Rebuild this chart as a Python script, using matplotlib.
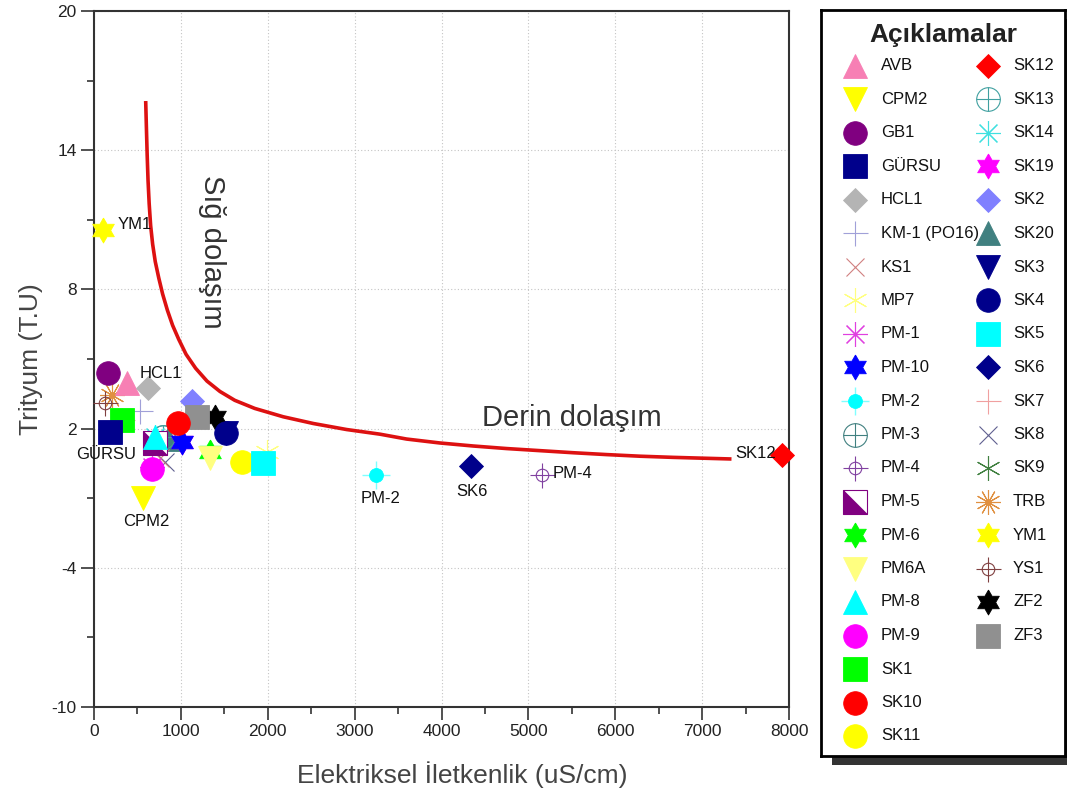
import numpy as np
import matplotlib
matplotlib.use('Agg')
import matplotlib.pyplot as plt
from matplotlib.patches import Rectangle

plt.rcParams['font.family'] = ['Liberation Sans', 'DejaVu Sans']
plt.rcParams['axes.unicode_minus'] = False

# ---------------- data ----------------
names = ['AVB', 'CPM2', 'GB1', 'GÜRSU', 'HCL1', 'KM-1 (PO16)', 'KS1', 'MP7', 'PM-1',
         'PM-10', 'PM-2', 'PM-3', 'PM-4', 'PM-5', 'PM-6', 'PM6A', 'PM-8', 'PM-9',
         'SK1', 'SK10', 'SK11', 'SK12', 'SK13', 'SK14', 'SK19', 'SK2', 'SK20', 'SK3',
         'SK4', 'SK5', 'SK6', 'SK7', 'SK8', 'SK9', 'TRB', 'YM1', 'YS1', 'ZF2', 'ZF3']
ec_us_cm = [376, 568, 165, 184, 625, 529, 760, 1987, 664,
            1016, 3245, 794, 5152, 702, 1335, 1335, 702, 664,
            318, 963, 1700, 7914, 794, 702, 1016, 1124, 855, 1519,
            1519, 1948, 4338, 318, 817, 702, 204, 107, 127, 1392, 1191]
tritium_tu = [3.95, -1.0, 4.38, 1.86, 3.73, 2.75, 0.75, 0.99, 0.35,
              1.43, 0.02, 1.63, -0.01, 1.36, 0.99, 0.75, 1.65, 0.28,
              2.36, 2.22, 0.56, 0.85, 1.63, 1.65, 1.43, 3.20, 1.57, 1.83,
              1.83, 0.50, 0.38, 2.36, 0.55, 1.36, 3.44, 10.56, 3.11, 2.51, 2.52]

# boundary curve
curve_ec = [595, 603, 612, 622, 635, 652, 675, 705, 745, 790, 845, 905, 975, 1060,
            1170, 1300, 1450, 1620, 1850, 2178, 2524, 2908, 3291, 3598, 3982, 4365,
            4749, 5132, 5516, 5900, 6283, 6667, 7051, 7338]
curve_t = [16.12, 15.0, 13.8, 12.7, 11.7, 10.75, 9.95, 9.2, 8.5, 7.8, 7.1, 6.45,
           5.85, 5.2, 4.6, 4.05, 3.6, 3.22, 2.87, 2.51, 2.22, 1.96, 1.76, 1.55, 1.38,
           1.25, 1.14, 1.05, 0.96, 0.88, 0.81, 0.76, 0.72, 0.69]

x_ticks = [0, 1000, 2000, 3000, 4000, 5000, 6000, 7000, 8000]
y_ticks = [-10, -4, 2, 8, 14, 20]
y_minor = [-7, -1, 5, 11, 17]

labelled = ['YM1', 'HCL1', 'GÜRSU', 'CPM2', 'PM-2', 'SK6', 'PM-4', 'SK12']

# ---------------- styles ----------------
ang = np.deg2rad(np.arange(12) * 30 + 90)
rad = np.where(np.arange(12) % 2 == 0, 1.0, 1 / np.sqrt(3))
HEX = list(zip(rad * np.cos(ang), rad * np.sin(ang))) + [(0.0, 1.0)]
HALF = [(-1, 1), (-1, -1), (1, -1), (-1, 1)]

NAVY = '#00008b'


def filled(m, c, ms=17):
    return [dict(marker=m, markersize=ms, markerfacecolor=c, markeredgecolor=c,
                 markeredgewidth=0.6)]


def thin(m, c, ms=18, lw=0.8):
    return [dict(marker=m, markersize=ms, markerfacecolor='none', markeredgecolor=c,
                 markeredgewidth=lw)]


STYLE = {
    'AVB': filled('^', '#f77fb4'),
    'CPM2': filled('v', '#ffff00'),
    'GB1': filled('o', '#800080'),
    'GÜRSU': filled('s', NAVY),
    'HCL1': filled('D', '#b4b4b4', 12),
    'KM-1 (PO16)': thin('+', '#a0a0d8'),
    'KS1': thin('x', '#d08080', 13),
    'MP7': thin((6, 2, 0), '#ffff80'),
    'PM-1': thin((8, 2, 0), '#e040e0'),
    'PM-10': filled(HEX, '#0000ff', 18),
    'PM-2': thin('+', '#80ffff', 20, 1.0) + filled('o', '#00ffff', 10),
    'PM-3': thin('o', '#408080', 17) + thin('+', '#408080', 17),
    'PM-4': thin('o', '#8040a0', 9) + thin('+', '#8040a0', 18),
    'PM-5': [dict(marker='s', markersize=17, markerfacecolor='white',
                  markeredgecolor='#800080', markeredgewidth=0.8)] + filled(HALF, '#800080', 17),
    'PM-6': filled(HEX, '#00ff00', 18),
    'PM6A': filled('v', '#ffff80'),
    'PM-8': filled('^', '#00ffff'),
    'PM-9': filled('o', '#ff00ff'),
    'SK1': filled('s', '#00ff00'),
    'SK10': filled('o', '#ff0000'),
    'SK11': filled('o', '#ffff00'),
    'SK12': filled('D', '#ff0000', 12),
    'SK13': thin('o', '#40a0a0', 17) + thin('+', '#40a0a0', 17),
    'SK14': thin((8, 2, 0), '#40e0e0'),
    'SK19': filled(HEX, '#ff00ff', 18),
    'SK2': filled('D', '#8080ff', 12),
    'SK20': filled('^', '#408080'),
    'SK3': filled('v', NAVY),
    'SK4': filled('o', NAVY),
    'SK5': filled('s', '#00ffff'),
    'SK6': filled('D', NAVY, 12),
    'SK7': thin('+', '#f0a0a0'),
    'SK8': thin('x', '#606090', 13),
    'SK9': thin((6, 2, 0), '#408040'),
    'TRB': thin((12, 2, 0), '#e09040'),
    'YM1': filled(HEX, '#ffff00', 18),
    'YS1': thin('o', '#804040', 9) + thin('+', '#804040', 18),
    'ZF2': filled(HEX, '#000000', 18),
    'ZF3': filled('s', '#909090'),
}

# bottom -> top drawing order
draw_order = ['SK20', 'PM-3', 'SK13', 'SK3', 'SK19', 'SK14', 'SK9', 'SK8', 'SK7', 'KS1',
              'PM-1', 'MP7', 'TRB', 'YS1', 'KM-1 (PO16)', 'SK1', 'GÜRSU', 'GB1', 'AVB',
              'HCL1', 'SK2', 'ZF2', 'ZF3', 'SK4', 'PM-10', 'SK10', 'PM-5', 'PM-8', 'PM-9',
              'PM-6', 'PM6A', 'SK11', 'SK5', 'CPM2', 'YM1', 'PM-2', 'SK6', 'PM-4', 'SK12']

# label offsets in points (ha)
LABEL_POS = {
    'YM1': (10.5, 4.3, 'left'),
    'HCL1': (-6.5, 11, 'left'),
    'GÜRSU': (-3, -16.5, 'center'),
    'CPM2': (2, -17, 'center'),
    'PM-2': (3.6, -17, 'center'),
    'SK6': (0.7, -18.5, 'center'),
    'PM-4': (8, 1.4, 'left'),
    'SK12': (-4.3, 1.4, 'right'),
}


def draw_marker(axis, x, y, name, z):
    for lay in STYLE[name]:
        axis.plot(x, y, linestyle='none', zorder=z, clip_on=False, **lay)


# ---------------- figure ----------------
W, H = 1067, 799
fig = plt.figure(figsize=(W / 100, H / 100), dpi=100)
ax = fig.add_axes([94 / W, 1 - 707 / H, 695 / W, 696 / H])

ax.set_xlim(0, 8000)
ax.set_ylim(-10, 20)
ax.set_xticks(x_ticks)
ax.set_xticks(np.arange(500, 8000, 1000), minor=True)
ax.set_yticks(y_ticks)
ax.set_yticks(y_minor, minor=True)
ax.grid(True, which='major', linestyle=(0, (1, 2)), color='#c4c4c4', linewidth=0.8)
ax.set_axisbelow(True)
for s in ax.spines.values():
    s.set_color('#333333')
    s.set_linewidth(1.5)
ax.tick_params(which='major', direction='out', length=9.4, width=1.2, color='#333333',
               labelsize=12.5, labelcolor='#222222', pad=3)
ax.tick_params(which='minor', direction='out', length=5, width=1.2, color='#333333')

ax.set_xlabel('Elektriksel İletkenlik (uS/cm)', fontsize=19, color='#444444', va='center')
ax.xaxis.set_label_coords(0.53, -0.0977)
ax.set_ylabel('Trityum (T.U)', fontsize=19, color='#444444', va='center')
ax.yaxis.set_label_coords(-0.0906, 0.5)

# boundary curve
ax.plot(curve_ec, curve_t, color='#dd1111', linewidth=2.6, solid_capstyle='butt',
        solid_joinstyle='round', zorder=2)

# data points
for z, nm in enumerate(draw_order):
    i = names.index(nm)
    draw_marker(ax, [ec_us_cm[i]], [tritium_tu[i]], nm, 3 + z * 0.01)

for nm in labelled:
    i = names.index(nm)
    dx, dy, ha = LABEL_POS[nm]
    ax.annotate(nm, (ec_us_cm[i], tritium_tu[i]), xytext=(dx, dy),
                textcoords='offset points', ha=ha, va='center', fontsize=12,
                color='#111111', zorder=5, annotation_clip=False)

ax.text(5500, 2.45, 'Derin dolaşım', fontsize=21, color='#333333', ha='center', va='center')
ax.text(1354, 9.61, 'Sığ dolaşım', fontsize=21, color='#333333', ha='center', va='center',
        rotation=-90)

# ---------------- legend ----------------
lx0, ly0, lx1, ly1 = 821, 10, 1065, 756
fig.add_artist(Rectangle(((lx0 + 11) / W, 1 - (ly1 + 9) / H), (lx1 - lx0) / W,
                         (ly1 - ly0) / H, transform=fig.transFigure,
                         facecolor='#333333', edgecolor='none', zorder=-1))
lax = fig.add_axes([lx0 / W, 1 - ly1 / H, (lx1 - lx0) / W, (ly1 - ly0) / H])
lax.set_xlim(0, lx1 - lx0)
lax.set_ylim(ly1 - ly0, 0)
lax.set_xticks([])
lax.set_yticks([])
for s in lax.spines.values():
    s.set_color('black')
    s.set_linewidth(2)
lax.text(122, 25, 'Açıklamalar', ha='center', va='center', fontsize=19,
         fontweight='bold', color='#222222')
n_col1 = 21
for k, nm in enumerate(names):
    col, row = (0, k) if k < n_col1 else (1, k - n_col1)
    mx = 34 if col == 0 else 167
    tx = 60 if col == 0 else 192
    yy = 56 + 33.5 * row
    draw_marker(lax, [mx], [yy], nm, 3)
    lax.text(tx, yy, nm, ha='left', va='center', fontsize=12, color='#111111', zorder=2)

fig.savefig('out.png', dpi=100)
